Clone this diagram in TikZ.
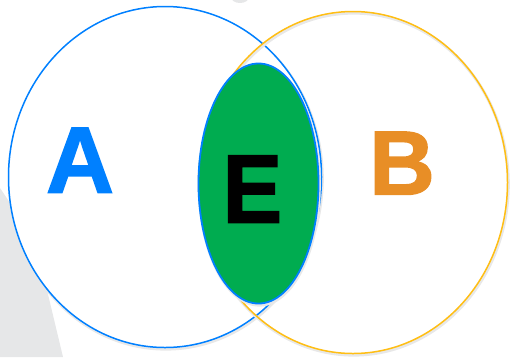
\documentclass[tikz,border=0pt]{standalone}
\usepackage{fontspec}
\setsansfont{Liberation Sans}
\newfontfamily\heavyfont[FakeBold=1.6]{Liberation Sans Bold}
\usepackage{tikz}
\usetikzlibrary{shapes.geometric}
\definecolor{ablue}{RGB}{0,128,255}
\definecolor{bgold}{RGB}{255,190,20}
\definecolor{borange}{RGB}{232,142,38}
\definecolor{egreen}{RGB}{0,172,80}
\definecolor{stripegray}{RGB}{230,231,232}
\tikzset{
  halo/.style={preaction={draw=black!9,line width=3pt,
               transform canvas={xshift=0.8pt,yshift=-1.6pt}}},
  setA/.style={draw=ablue,fill=white,ellipse,inner sep=0pt,line width=1.5pt,halo,
               minimum width=313pt,minimum height=341pt},
  setB/.style={draw=bgold,ellipse,inner sep=0pt,line width=1.5pt,halo,
               minimum width=309pt,minimum height=342pt},
  setE/.style={draw=ablue,fill=egreen,ellipse,inner sep=0pt,line width=1.8pt,halo,
               minimum width=120pt,minimum height=240pt},
  letter/.style={font=\heavyfont\fontsize{94}{94}\selectfont,inner sep=0pt,anchor=base},
}

\begin{document}
\begin{tikzpicture}[x=1pt,y=-1pt]
  \useasboundingbox (0,0) rectangle (510,357);

  %% -- background stripe --------------------------------------------------
  \fill[stripegray] (0,188) -- (35,240) -- (63,357) -- (0,357) -- cycle;
  \fill[stripegray] (240,-3) ellipse [x radius=9pt,y radius=6pt];

  %% -- sets ---------------------------------------------------------------
  \node[setA] (A) at (165,177)   {};
  \node[setB] (B) at (353,182.5) {};
  \node[setE] (E) at (258.5,183.5) {};

  %% -- labels -------------------------------------------------------------
  \node[letter,text=ablue]   (labA) at (80,192.5)  {A};
  \node[letter,text=borange,font=\heavyfont\fontsize{91}{91}\selectfont]
                             (labB) at (402,194.5) {B};
  \node[letter,text=black,xscale=0.92,font=\heavyfont\fontsize{97}{97}\selectfont]
                             (labE) at (252.5,222.5) {E};
\end{tikzpicture}
\end{document}
